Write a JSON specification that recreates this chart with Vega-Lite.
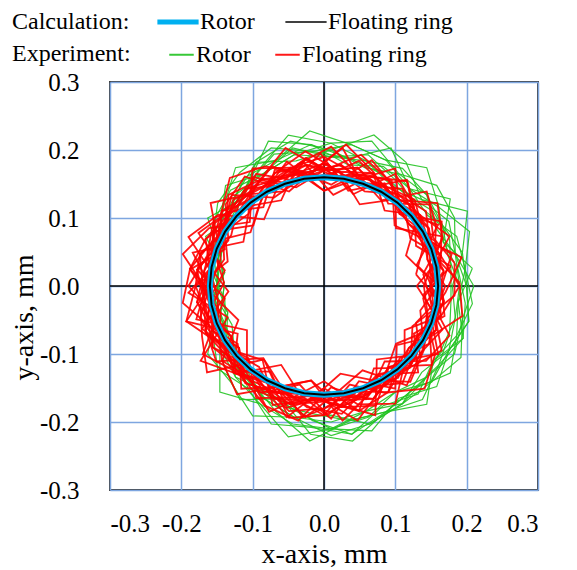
{
"$schema": "https://vega.github.io/schema/vega-lite/v6.json",
"width": 428, "height": 408,
"autosize": "none",
"padding": {"left": 110, "top": 82, "right": 39, "bottom": 80},
"background": "white",
"config": {
 "view": {"stroke": "#404040", "strokeWidth": 2},
 "axis": {"grid": true, "gridColor": "#7ea6e0", "gridWidth": 1.5, "gridOpacity": 1, "ticks": false, "tickSize": 0, "domain": false, "labelFont": "Liberation Serif, Times New Roman, serif", "labelFontSize": 25, "labelColor": "#000", "titleFont": "Liberation Serif, Times New Roman, serif", "titleFontSize": 28, "titleFontWeight": "normal", "titleColor": "#000"},
 "axisX": {"labelPadding": 21},
 "axisY": {"labelPadding": 31},
 "legend": {"orient": "none", "direction": "horizontal", "titleOrient": "left", "symbolType": "stroke", "labelFont": "Liberation Serif, Times New Roman, serif", "labelFontSize": 24, "labelColor": "#000", "titleFont": "Liberation Serif, Times New Roman, serif", "titleFontSize": 24, "titleFontWeight": "normal", "titleColor": "#000", "labelLimit": 300}
},
"datasets": {
 "zero": [{"v": 0}],
 "calc": [
  {"t":"Rotor","x":0.16,"y":0},{"t":"Rotor","x":0.1576,"y":0.0278},{"t":"Rotor","x":0.1504,"y":0.0547},{"t":"Rotor","x":0.1386,"y":0.08},{"t":"Rotor","x":0.1226,"y":0.1028},{"t":"Rotor","x":0.1028,"y":0.1226},{"t":"Rotor","x":0.08,"y":0.1386},{"t":"Rotor","x":0.0547,"y":0.1504},{"t":"Rotor","x":0.0278,"y":0.1576},{"t":"Rotor","x":0,"y":0.16},{"t":"Rotor","x":-0.0278,"y":0.1576},{"t":"Rotor","x":-0.0547,"y":0.1504},{"t":"Rotor","x":-0.08,"y":0.1386},{"t":"Rotor","x":-0.1028,"y":0.1226},{"t":"Rotor","x":-0.1226,"y":0.1028},{"t":"Rotor","x":-0.1386,"y":0.08},{"t":"Rotor","x":-0.1504,"y":0.0547},{"t":"Rotor","x":-0.1576,"y":0.0278},{"t":"Rotor","x":-0.16,"y":0},{"t":"Rotor","x":-0.1576,"y":-0.0278},{"t":"Rotor","x":-0.1504,"y":-0.0547},{"t":"Rotor","x":-0.1386,"y":-0.08},{"t":"Rotor","x":-0.1226,"y":-0.1028},{"t":"Rotor","x":-0.1028,"y":-0.1226},{"t":"Rotor","x":-0.08,"y":-0.1386},{"t":"Rotor","x":-0.0547,"y":-0.1504},{"t":"Rotor","x":-0.0278,"y":-0.1576},{"t":"Rotor","x":0,"y":-0.16},{"t":"Rotor","x":0.0278,"y":-0.1576},{"t":"Rotor","x":0.0547,"y":-0.1504},{"t":"Rotor","x":0.08,"y":-0.1386},{"t":"Rotor","x":0.1028,"y":-0.1226},{"t":"Rotor","x":0.1226,"y":-0.1028},{"t":"Rotor","x":0.1386,"y":-0.08},{"t":"Rotor","x":0.1504,"y":-0.0547},{"t":"Rotor","x":0.1576,"y":-0.0278},{"t":"Rotor","x":0.16,"y":0},
  {"t":"Floating ring","x":0.16,"y":0},{"t":"Floating ring","x":0.1576,"y":0.0278},{"t":"Floating ring","x":0.1504,"y":0.0547},{"t":"Floating ring","x":0.1386,"y":0.08},{"t":"Floating ring","x":0.1226,"y":0.1028},{"t":"Floating ring","x":0.1028,"y":0.1226},{"t":"Floating ring","x":0.08,"y":0.1386},{"t":"Floating ring","x":0.0547,"y":0.1504},{"t":"Floating ring","x":0.0278,"y":0.1576},{"t":"Floating ring","x":0,"y":0.16},{"t":"Floating ring","x":-0.0278,"y":0.1576},{"t":"Floating ring","x":-0.0547,"y":0.1504},{"t":"Floating ring","x":-0.08,"y":0.1386},{"t":"Floating ring","x":-0.1028,"y":0.1226},{"t":"Floating ring","x":-0.1226,"y":0.1028},{"t":"Floating ring","x":-0.1386,"y":0.08},{"t":"Floating ring","x":-0.1504,"y":0.0547},{"t":"Floating ring","x":-0.1576,"y":0.0278},{"t":"Floating ring","x":-0.16,"y":0},{"t":"Floating ring","x":-0.1576,"y":-0.0278},{"t":"Floating ring","x":-0.1504,"y":-0.0547},{"t":"Floating ring","x":-0.1386,"y":-0.08},{"t":"Floating ring","x":-0.1226,"y":-0.1028},{"t":"Floating ring","x":-0.1028,"y":-0.1226},{"t":"Floating ring","x":-0.08,"y":-0.1386},{"t":"Floating ring","x":-0.0547,"y":-0.1504},{"t":"Floating ring","x":-0.0278,"y":-0.1576},{"t":"Floating ring","x":0,"y":-0.16},{"t":"Floating ring","x":0.0278,"y":-0.1576},{"t":"Floating ring","x":0.0547,"y":-0.1504},{"t":"Floating ring","x":0.08,"y":-0.1386},{"t":"Floating ring","x":0.1028,"y":-0.1226},{"t":"Floating ring","x":0.1226,"y":-0.1028},{"t":"Floating ring","x":0.1386,"y":-0.08},{"t":"Floating ring","x":0.1504,"y":-0.0547},{"t":"Floating ring","x":0.1576,"y":-0.0278},{"t":"Floating ring","x":0.16,"y":0}
 ],
 "g": [
  {"k":1,"x":0.200,"y":0},{"k":1,"x":0.184,"y":0.047},{"k":1,"x":0.157,"y":0.085},{"k":1,"x":0.144,"y":0.134},{"k":1,"x":0.110,"y":0.173},{"k":1,"x":0.059,"y":0.184},{"k":1,"x":0.010,"y":0.210},{"k":1,"x":-0.050,"y":0.222},{"k":1,"x":-0.090,"y":0.173},{"k":1,"x":-0.117,"y":0.127},{"k":1,"x":-0.137,"y":0.085},{"k":1,"x":-0.145,"y":0.041},{"k":1,"x":-0.140,"y":0},{"k":1,"x":-0.145,"y":-0.041},{"k":1,"x":-0.146,"y":-0.090},{"k":1,"x":-0.124,"y":-0.134},{"k":1,"x":-0.090,"y":-0.173},{"k":1,"x":-0.044,"y":-0.203},{"k":1,"x":0.010,"y":-0.210},{"k":1,"x":0.062,"y":-0.193},{"k":1,"x":0.100,"y":-0.156},{"k":1,"x":0.151,"y":-0.141},{"k":1,"x":0.175,"y":-0.095},{"k":1,"x":0.203,"y":-0.052},{"k":1,"x":0.200,"y":0},
  {"k":2,"x":0.188,"y":0.024},{"k":2,"x":0.167,"y":0.065},{"k":2,"x":0.161,"y":0.116},{"k":2,"x":0.120,"y":0.143},{"k":2,"x":0.087,"y":0.185},{"k":2,"x":0.038,"y":0.208},{"k":2,"x":-0.016,"y":0.198},{"k":2,"x":-0.074,"y":0.203},{"k":2,"x":-0.118,"y":0.167},{"k":2,"x":-0.149,"y":0.122},{"k":2,"x":-0.156,"y":0.069},{"k":2,"x":-0.158,"y":0.022},{"k":2,"x":-0.149,"y":-0.021},{"k":2,"x":-0.129,"y":-0.057},{"k":2,"x":-0.125,"y":-0.104},{"k":2,"x":-0.106,"y":-0.151},{"k":2,"x":-0.059,"y":-0.166},{"k":2,"x":-0.016,"y":-0.198},{"k":2,"x":0.039,"y":-0.218},{"k":2,"x":0.083,"y":-0.176},{"k":2,"x":0.132,"y":-0.159},{"k":2,"x":0.153,"y":-0.110},{"k":2,"x":0.195,"y":-0.077},{"k":2,"x":0.198,"y":-0.025},{"k":2,"x":0.188,"y":0.024},
  {"k":3,"x":0.180,"y":0},{"k":3,"x":0.194,"y":0.049},{"k":3,"x":0.166,"y":0.090},{"k":3,"x":0.130,"y":0.120},{"k":3,"x":0.100,"y":0.156},{"k":3,"x":0.062,"y":0.193},{"k":3,"x":0.010,"y":0.190},{"k":3,"x":-0.044,"y":0.203},{"k":3,"x":-0.085,"y":0.165},{"k":3,"x":-0.131,"y":0.141},{"k":3,"x":-0.155,"y":0.095},{"k":3,"x":-0.154,"y":0.044},{"k":3,"x":-0.160,"y":0},{"k":3,"x":-0.145,"y":-0.041},{"k":3,"x":-0.129,"y":-0.080},{"k":3,"x":-0.110,"y":-0.120},{"k":3,"x":-0.085,"y":-0.165},{"k":3,"x":-0.042,"y":-0.193},{"k":3,"x":0.010,"y":-0.190},{"k":3,"x":0.064,"y":-0.203},{"k":3,"x":0.110,"y":-0.173},{"k":3,"x":0.144,"y":-0.134},{"k":3,"x":0.166,"y":-0.090},{"k":3,"x":0.184,"y":-0.047},{"k":3,"x":0.180,"y":0},
  {"k":4,"x":0.198,"y":0.025},{"k":4,"x":0.186,"y":0.073},{"k":4,"x":0.145,"y":0.104},{"k":4,"x":0.120,"y":0.143},{"k":4,"x":0.083,"y":0.176},{"k":4,"x":0.034,"y":0.178},{"k":4,"x":-0.018,"y":0.208},{"k":4,"x":-0.067,"y":0.185},{"k":4,"x":-0.112,"y":0.159},{"k":4,"x":-0.133,"y":0.110},{"k":4,"x":-0.147,"y":0.065},{"k":4,"x":-0.149,"y":0.021},{"k":4,"x":-0.149,"y":-0.021},{"k":4,"x":-0.147,"y":-0.065},{"k":4,"x":-0.133,"y":-0.110},{"k":4,"x":-0.100,"y":-0.143},{"k":4,"x":-0.067,"y":-0.185},{"k":4,"x":-0.020,"y":-0.228},{"k":4,"x":0.036,"y":-0.198},{"k":4,"x":0.087,"y":-0.185},{"k":4,"x":0.126,"y":-0.151},{"k":4,"x":0.177,"y":-0.128},{"k":4,"x":0.186,"y":-0.073},{"k":4,"x":0.188,"y":-0.024},{"k":4,"x":0.198,"y":0.025},
  {"k":5,"x":0.190,"y":0},{"k":5,"x":0.174,"y":0.044},{"k":5,"x":0.166,"y":0.090},{"k":5,"x":0.144,"y":0.134},{"k":5,"x":0.105,"y":0.165},{"k":5,"x":0.057,"y":0.174},{"k":5,"x":0.010,"y":0.200},{"k":5,"x":-0.039,"y":0.184},{"k":5,"x":-0.095,"y":0.182},{"k":5,"x":-0.124,"y":0.134},{"k":5,"x":-0.146,"y":0.090},{"k":5,"x":-0.145,"y":0.041},{"k":5,"x":-0.140,"y":0},{"k":5,"x":-0.145,"y":-0.041},{"k":5,"x":-0.137,"y":-0.085},{"k":5,"x":-0.124,"y":-0.134},{"k":5,"x":-0.080,"y":-0.156},{"k":5,"x":-0.039,"y":-0.184},{"k":5,"x":0.010,"y":-0.210},{"k":5,"x":0.059,"y":-0.184},{"k":5,"x":0.100,"y":-0.156},{"k":5,"x":0.144,"y":-0.134},{"k":5,"x":0.183,"y":-0.100},{"k":5,"x":0.194,"y":-0.049},{"k":5,"x":0.190,"y":0},
  {"k":6,"x":0.178,"y":0.022},{"k":6,"x":0.176,"y":0.069},{"k":6,"x":0.153,"y":0.110},{"k":6,"x":0.114,"y":0.135},{"k":6,"x":0.079,"y":0.166},{"k":6,"x":0.035,"y":0.188},{"k":6,"x":-0.016,"y":0.198},{"k":6,"x":-0.070,"y":0.194},{"k":6,"x":-0.106,"y":0.151},{"k":6,"x":-0.133,"y":0.110},{"k":6,"x":-0.147,"y":0.065},{"k":6,"x":-0.158,"y":0.022},{"k":6,"x":-0.139,"y":-0.020},{"k":6,"x":-0.138,"y":-0.061},{"k":6,"x":-0.125,"y":-0.104},{"k":6,"x":-0.100,"y":-0.143},{"k":6,"x":-0.063,"y":-0.176},{"k":6,"x":-0.015,"y":-0.188},{"k":6,"x":0.036,"y":-0.198},{"k":6,"x":0.087,"y":-0.185},{"k":6,"x":0.126,"y":-0.151},{"k":6,"x":0.161,"y":-0.116},{"k":6,"x":0.176,"y":-0.069},{"k":6,"x":0.178,"y":-0.022},{"k":6,"x":0.178,"y":0.022},
  {"k":7,"x":0.190,"y":0},{"k":7,"x":0.184,"y":0.047},{"k":7,"x":0.175,"y":0.095},{"k":7,"x":0.137,"y":0.127},{"k":7,"x":0.095,"y":0.147},{"k":7,"x":0.059,"y":0.184},{"k":7,"x":0.010,"y":0.190},{"k":7,"x":-0.042,"y":0.193},{"k":7,"x":-0.085,"y":0.165},{"k":7,"x":-0.124,"y":0.134},{"k":7,"x":-0.137,"y":0.085},{"k":7,"x":-0.145,"y":0.041},{"k":7,"x":-0.150,"y":0},{"k":7,"x":-0.135,"y":-0.039},{"k":7,"x":-0.137,"y":-0.085},{"k":7,"x":-0.117,"y":-0.127},{"k":7,"x":-0.085,"y":-0.165},{"k":7,"x":-0.042,"y":-0.193},{"k":7,"x":0.010,"y":-0.200},{"k":7,"x":0.059,"y":-0.184},{"k":7,"x":0.110,"y":-0.173},{"k":7,"x":0.137,"y":-0.127},{"k":7,"x":0.175,"y":-0.095},{"k":7,"x":0.184,"y":-0.047},{"k":7,"x":0.190,"y":0},
  {"k":8,"x":0.208,"y":0.026},{"k":8,"x":0.167,"y":0.065},{"k":8,"x":0.177,"y":0.128},{"k":8,"x":0.120,"y":0.143},{"k":8,"x":0.094,"y":0.203},{"k":8,"x":0.035,"y":0.188},{"k":8,"x":-0.018,"y":0.208},{"k":8,"x":-0.078,"y":0.213},{"k":8,"x":-0.106,"y":0.151},{"k":8,"x":-0.125,"y":0.104},{"k":8,"x":-0.166,"y":0.073},{"k":8,"x":-0.139,"y":0.020},{"k":8,"x":-0.158,"y":-0.022},{"k":8,"x":-0.138,"y":-0.061},{"k":8,"x":-0.141,"y":-0.116},{"k":8,"x":-0.118,"y":-0.167},{"k":8,"x":-0.059,"y":-0.166},{"k":8,"x":-0.019,"y":-0.218},{"k":8,"x":0.040,"y":-0.228},{"k":8,"x":0.087,"y":-0.185},{"k":8,"x":0.138,"y":-0.167},{"k":8,"x":0.161,"y":-0.116},{"k":8,"x":0.195,"y":-0.077},{"k":8,"x":0.188,"y":-0.024},{"k":8,"x":0.208,"y":0.026},
  {"k":9,"x":0.200,"y":0},{"k":9,"x":0.194,"y":0.049},{"k":9,"x":0.201,"y":0.110},{"k":9,"x":0.137,"y":0.127},{"k":9,"x":0.115,"y":0.182},{"k":9,"x":0.070,"y":0.222},{"k":9,"x":0.010,"y":0.200},{"k":9,"x":-0.047,"y":0.213},{"k":9,"x":-0.095,"y":0.182},{"k":9,"x":-0.117,"y":0.127},{"k":9,"x":-0.163,"y":0.100},{"k":9,"x":-0.145,"y":0.041},{"k":9,"x":-0.160,"y":0},{"k":9,"x":-0.135,"y":-0.039},{"k":9,"x":-0.146,"y":-0.090},{"k":9,"x":-0.146,"y":-0.156},{"k":9,"x":-0.090,"y":-0.173},{"k":9,"x":-0.050,"y":-0.222},{"k":9,"x":0.010,"y":-0.210},{"k":9,"x":0.067,"y":-0.213},{"k":9,"x":0.105,"y":-0.165},{"k":9,"x":0.158,"y":-0.148},{"k":9,"x":0.175,"y":-0.095},{"k":9,"x":0.203,"y":-0.052},{"k":9,"x":0.200,"y":0},
  {"k":10,"x":0.198,"y":0.025},{"k":10,"x":0.204,"y":0.080},{"k":10,"x":0.161,"y":0.116},{"k":10,"x":0.144,"y":0.174},{"k":10,"x":0.087,"y":0.185},{"k":10,"x":0.038,"y":0.208},{"k":10,"x":-0.020,"y":0.228},{"k":10,"x":-0.067,"y":0.185},{"k":10,"x":-0.124,"y":0.174},{"k":10,"x":-0.141,"y":0.116},{"k":10,"x":-0.147,"y":0.065},{"k":10,"x":-0.149,"y":0.021},{"k":10,"x":-0.149,"y":-0.021},{"k":10,"x":-0.156,"y":-0.069},{"k":10,"x":-0.149,"y":-0.122},{"k":10,"x":-0.106,"y":-0.151},{"k":10,"x":-0.074,"y":-0.203},{"k":10,"x":-0.018,"y":-0.208},{"k":10,"x":0.039,"y":-0.218},{"k":10,"x":0.087,"y":-0.185},{"k":10,"x":0.144,"y":-0.174},{"k":10,"x":0.153,"y":-0.110},{"k":10,"x":0.186,"y":-0.073},{"k":10,"x":0.208,"y":-0.026},{"k":10,"x":0.198,"y":0.025},
  {"k":11,"x":0.210,"y":0},{"k":11,"x":0.184,"y":0.047},{"k":11,"x":0.183,"y":0.100},{"k":11,"x":0.158,"y":0.148},{"k":11,"x":0.105,"y":0.165},{"k":11,"x":0.067,"y":0.213},{"k":11,"x":0.010,"y":0.210},{"k":11,"x":-0.042,"y":0.193},{"k":11,"x":-0.085,"y":0.165},{"k":11,"x":-0.138,"y":0.148},{"k":11,"x":-0.146,"y":0.090},{"k":11,"x":-0.154,"y":0.044},{"k":11,"x":-0.150,"y":0},{"k":11,"x":-0.154,"y":-0.044},{"k":11,"x":-0.163,"y":-0.100},{"k":11,"x":-0.131,"y":-0.141},{"k":11,"x":-0.100,"y":-0.191},{"k":11,"x":-0.042,"y":-0.193},{"k":11,"x":0.010,"y":-0.220},{"k":11,"x":0.064,"y":-0.203},{"k":11,"x":0.110,"y":-0.173},{"k":11,"x":0.151,"y":-0.141},{"k":11,"x":0.192,"y":-0.105},{"k":11,"x":0.194,"y":-0.049},{"k":11,"x":0.210,"y":0}
 ],
 "r": [
  {"k":1,"x":0.150,"y":0},{"k":1,"x":0.155,"y":0.041},{"k":1,"x":0.147,"y":0.085},{"k":1,"x":0.113,"y":0.113},{"k":1,"x":0.090,"y":0.156},{"k":1,"x":0.044,"y":0.164},{"k":1,"x":0,"y":0.190},{"k":1,"x":-0.047,"y":0.174},{"k":1,"x":-0.080,"y":0.139},{"k":1,"x":-0.120,"y":0.120},{"k":1,"x":-0.156,"y":0.090},{"k":1,"x":-0.164,"y":0.044},{"k":1,"x":-0.190,"y":0},{"k":1,"x":-0.155,"y":-0.041},{"k":1,"x":-0.130,"y":-0.075},{"k":1,"x":-0.120,"y":-0.120},{"k":1,"x":-0.090,"y":-0.156},{"k":1,"x":-0.041,"y":-0.155},{"k":1,"x":0,"y":-0.170},{"k":1,"x":0.049,"y":-0.184},{"k":1,"x":0.090,"y":-0.156},{"k":1,"x":0.113,"y":-0.113},{"k":1,"x":0.130,"y":-0.075},{"k":1,"x":0.164,"y":-0.044},{"k":1,"x":0.150,"y":0},
  {"k":2,"x":0.168,"y":0.022},{"k":2,"x":0.139,"y":0.057},{"k":2,"x":0.127,"y":0.097},{"k":2,"x":0.110,"y":0.143},{"k":2,"x":0.061,"y":0.148},{"k":2,"x":0.024,"y":0.178},{"k":2,"x":-0.022,"y":0.168},{"k":2,"x":-0.061,"y":0.148},{"k":2,"x":-0.110,"y":0.143},{"k":2,"x":-0.135,"y":0.104},{"k":2,"x":-0.148,"y":0.061},{"k":2,"x":-0.178,"y":0.024},{"k":2,"x":-0.168,"y":-0.022},{"k":2,"x":-0.166,"y":-0.069},{"k":2,"x":-0.127,"y":-0.097},{"k":2,"x":-0.104,"y":-0.135},{"k":2,"x":-0.061,"y":-0.148},{"k":2,"x":-0.024,"y":-0.178},{"k":2,"x":0.025,"y":-0.188},{"k":2,"x":0.061,"y":-0.148},{"k":2,"x":0.104,"y":-0.135},{"k":2,"x":0.119,"y":-0.091},{"k":2,"x":0.148,"y":-0.061},{"k":2,"x":0.139,"y":-0.018},{"k":2,"x":0.168,"y":0.022},
  {"k":3,"x":0.140,"y":0},{"k":3,"x":0.155,"y":0.041},{"k":3,"x":0.130,"y":0.075},{"k":3,"x":0.120,"y":0.120},{"k":3,"x":0.080,"y":0.139},{"k":3,"x":0.047,"y":0.174},{"k":3,"x":0,"y":0.170},{"k":3,"x":-0.054,"y":0.203},{"k":3,"x":-0.090,"y":0.156},{"k":3,"x":-0.113,"y":0.113},{"k":3,"x":-0.147,"y":0.085},{"k":3,"x":-0.145,"y":0.039},{"k":3,"x":-0.160,"y":0},{"k":3,"x":-0.174,"y":-0.047},{"k":3,"x":-0.147,"y":-0.085},{"k":3,"x":-0.113,"y":-0.113},{"k":3,"x":-0.085,"y":-0.147},{"k":3,"x":-0.047,"y":-0.174},{"k":3,"x":0,"y":-0.160},{"k":3,"x":0.044,"y":-0.164},{"k":3,"x":0.075,"y":-0.130},{"k":3,"x":0.120,"y":-0.120},{"k":3,"x":0.139,"y":-0.080},{"k":3,"x":0.145,"y":-0.039},{"k":3,"x":0.140,"y":0},
  {"k":4,"x":0.159,"y":0.021},{"k":4,"x":0.157,"y":0.065},{"k":4,"x":0.119,"y":0.091},{"k":4,"x":0.097,"y":0.127},{"k":4,"x":0.065,"y":0.157},{"k":4,"x":0.021,"y":0.159},{"k":4,"x":-0.024,"y":0.178},{"k":4,"x":-0.065,"y":0.157},{"k":4,"x":-0.104,"y":0.135},{"k":4,"x":-0.143,"y":0.110},{"k":4,"x":-0.148,"y":0.061},{"k":4,"x":-0.168,"y":0.022},{"k":4,"x":-0.178,"y":-0.024},{"k":4,"x":-0.148,"y":-0.061},{"k":4,"x":-0.135,"y":-0.104},{"k":4,"x":-0.110,"y":-0.143},{"k":4,"x":-0.065,"y":-0.157},{"k":4,"x":-0.021,"y":-0.159},{"k":4,"x":0.024,"y":-0.178},{"k":4,"x":0.065,"y":-0.157},{"k":4,"x":0.097,"y":-0.127},{"k":4,"x":0.135,"y":-0.104},{"k":4,"x":0.129,"y":-0.054},{"k":4,"x":0.159,"y":-0.021},{"k":4,"x":0.159,"y":0.021},
  {"k":5,"x":0.170,"y":0},{"k":5,"x":0.145,"y":0.039},{"k":5,"x":0.139,"y":0.080},{"k":5,"x":0.106,"y":0.106},{"k":5,"x":0.085,"y":0.147},{"k":5,"x":0.049,"y":0.184},{"k":5,"x":0,"y":0.160},{"k":5,"x":-0.044,"y":0.164},{"k":5,"x":-0.090,"y":0.156},{"k":5,"x":-0.120,"y":0.120},{"k":5,"x":-0.130,"y":0.075},{"k":5,"x":-0.155,"y":0.041},{"k":5,"x":-0.170,"y":0},{"k":5,"x":-0.164,"y":-0.044},{"k":5,"x":-0.156,"y":-0.090},{"k":5,"x":-0.113,"y":-0.113},{"k":5,"x":-0.085,"y":-0.147},{"k":5,"x":-0.049,"y":-0.184},{"k":5,"x":0,"y":-0.180},{"k":5,"x":0.041,"y":-0.155},{"k":5,"x":0.090,"y":-0.156},{"k":5,"x":0.106,"y":-0.106},{"k":5,"x":0.147,"y":-0.085},{"k":5,"x":0.155,"y":-0.041},{"k":5,"x":0.170,"y":0},
  {"k":6,"x":0.149,"y":0.020},{"k":6,"x":0.148,"y":0.061},{"k":6,"x":0.135,"y":0.104},{"k":6,"x":0.104,"y":0.135},{"k":6,"x":0.057,"y":0.139},{"k":6,"x":0.022,"y":0.168},{"k":6,"x":-0.024,"y":0.178},{"k":6,"x":-0.069,"y":0.166},{"k":6,"x":-0.097,"y":0.127},{"k":6,"x":-0.127,"y":0.097},{"k":6,"x":-0.166,"y":0.069},{"k":6,"x":-0.188,"y":0.025},{"k":6,"x":-0.159,"y":-0.021},{"k":6,"x":-0.157,"y":-0.065},{"k":6,"x":-0.127,"y":-0.097},{"k":6,"x":-0.091,"y":-0.119},{"k":6,"x":-0.069,"y":-0.166},{"k":6,"x":-0.022,"y":-0.168},{"k":6,"x":0.022,"y":-0.168},{"k":6,"x":0.069,"y":-0.166},{"k":6,"x":0.097,"y":-0.127},{"k":6,"x":0.127,"y":-0.097},{"k":6,"x":0.157,"y":-0.065},{"k":6,"x":0.149,"y":-0.020},{"k":6,"x":0.149,"y":0.020},
  {"k":7,"x":0.160,"y":0},{"k":7,"x":0.164,"y":0.044},{"k":7,"x":0.139,"y":0.080},{"k":7,"x":0.127,"y":0.127},{"k":7,"x":0.085,"y":0.147},{"k":7,"x":0.041,"y":0.155},{"k":7,"x":0,"y":0.180},{"k":7,"x":-0.044,"y":0.164},{"k":7,"x":-0.085,"y":0.147},{"k":7,"x":-0.127,"y":0.127},{"k":7,"x":-0.139,"y":0.080},{"k":7,"x":-0.174,"y":0.047},{"k":7,"x":-0.180,"y":0},{"k":7,"x":-0.164,"y":-0.044},{"k":7,"x":-0.139,"y":-0.080},{"k":7,"x":-0.127,"y":-0.127},{"k":7,"x":-0.080,"y":-0.139},{"k":7,"x":-0.044,"y":-0.164},{"k":7,"x":0,"y":-0.160},{"k":7,"x":0.044,"y":-0.164},{"k":7,"x":0.085,"y":-0.147},{"k":7,"x":0.113,"y":-0.113},{"k":7,"x":0.130,"y":-0.075},{"k":7,"x":0.164,"y":-0.044},{"k":7,"x":0.160,"y":0},
  {"k":8,"x":0.129,"y":0.017},{"k":8,"x":0.139,"y":0.057},{"k":8,"x":0.135,"y":0.104},{"k":8,"x":0.097,"y":0.127},{"k":8,"x":0.069,"y":0.166},{"k":8,"x":0.022,"y":0.168},{"k":8,"x":-0.021,"y":0.159},{"k":8,"x":-0.073,"y":0.176},{"k":8,"x":-0.104,"y":0.135},{"k":8,"x":-0.127,"y":0.097},{"k":8,"x":-0.157,"y":0.065},{"k":8,"x":-0.159,"y":0.021},{"k":8,"x":-0.149,"y":-0.020},{"k":8,"x":-0.148,"y":-0.061},{"k":8,"x":-0.143,"y":-0.110},{"k":8,"x":-0.104,"y":-0.135},{"k":8,"x":-0.077,"y":-0.185},{"k":8,"x":-0.021,"y":-0.159},{"k":8,"x":0.024,"y":-0.178},{"k":8,"x":0.065,"y":-0.157},{"k":8,"x":0.091,"y":-0.119},{"k":8,"x":0.135,"y":-0.104},{"k":8,"x":0.148,"y":-0.061},{"k":8,"x":0.159,"y":-0.021},{"k":8,"x":0.129,"y":0.017},
  {"k":9,"x":0.160,"y":0},{"k":9,"x":0.145,"y":0.039},{"k":9,"x":0.147,"y":0.085},{"k":9,"x":0.120,"y":0.120},{"k":9,"x":0.080,"y":0.139},{"k":9,"x":0.047,"y":0.174},{"k":9,"x":0,"y":0.170},{"k":9,"x":-0.041,"y":0.155},{"k":9,"x":-0.095,"y":0.165},{"k":9,"x":-0.120,"y":0.120},{"k":9,"x":-0.147,"y":0.085},{"k":9,"x":-0.155,"y":0.041},{"k":9,"x":-0.170,"y":0},{"k":9,"x":-0.145,"y":-0.039},{"k":9,"x":-0.147,"y":-0.085},{"k":9,"x":-0.120,"y":-0.120},{"k":9,"x":-0.090,"y":-0.156},{"k":9,"x":-0.047,"y":-0.174},{"k":9,"x":0,"y":-0.170},{"k":9,"x":0.041,"y":-0.155},{"k":9,"x":0.085,"y":-0.147},{"k":9,"x":0.120,"y":-0.120},{"k":9,"x":0.139,"y":-0.080},{"k":9,"x":0.135,"y":-0.036},{"k":9,"x":0.160,"y":0},
  {"k":10,"x":0.168,"y":0.022},{"k":10,"x":0.148,"y":0.061},{"k":10,"x":0.119,"y":0.091},{"k":10,"x":0.097,"y":0.127},{"k":10,"x":0.065,"y":0.157},{"k":10,"x":0.021,"y":0.159},{"k":10,"x":-0.025,"y":0.188},{"k":10,"x":-0.065,"y":0.157},{"k":10,"x":-0.097,"y":0.127},{"k":10,"x":-0.143,"y":0.110},{"k":10,"x":-0.157,"y":0.065},{"k":10,"x":-0.168,"y":0.022},{"k":10,"x":-0.159,"y":-0.021},{"k":10,"x":-0.166,"y":-0.069},{"k":10,"x":-0.135,"y":-0.104},{"k":10,"x":-0.097,"y":-0.127},{"k":10,"x":-0.065,"y":-0.157},{"k":10,"x":-0.022,"y":-0.168},{"k":10,"x":0.021,"y":-0.159},{"k":10,"x":0.069,"y":-0.166},{"k":10,"x":0.097,"y":-0.127},{"k":10,"x":0.119,"y":-0.091},{"k":10,"x":0.157,"y":-0.065},{"k":10,"x":0.159,"y":-0.021},{"k":10,"x":0.168,"y":0.022},
  {"k":11,"x":0.150,"y":0},{"k":11,"x":0.164,"y":0.044},{"k":11,"x":0.139,"y":0.080},{"k":11,"x":0.113,"y":0.113},{"k":11,"x":0.085,"y":0.147},{"k":11,"x":0.044,"y":0.164},{"k":11,"x":0,"y":0.160},{"k":11,"x":-0.047,"y":0.174},{"k":11,"x":-0.085,"y":0.147},{"k":11,"x":-0.106,"y":0.106},{"k":11,"x":-0.139,"y":0.080},{"k":11,"x":-0.174,"y":0.047},{"k":11,"x":-0.170,"y":0},{"k":11,"x":-0.155,"y":-0.041},{"k":11,"x":-0.156,"y":-0.090},{"k":11,"x":-0.120,"y":-0.120},{"k":11,"x":-0.080,"y":-0.139},{"k":11,"x":-0.044,"y":-0.164},{"k":11,"x":0,"y":-0.190},{"k":11,"x":0.044,"y":-0.164},{"k":11,"x":0.080,"y":-0.139},{"k":11,"x":0.120,"y":-0.120},{"k":11,"x":0.130,"y":-0.075},{"k":11,"x":0.155,"y":-0.041},{"k":11,"x":0.150,"y":0},
  {"k":12,"x":0.159,"y":0.021},{"k":12,"x":0.148,"y":0.061},{"k":12,"x":0.143,"y":0.110},{"k":12,"x":0.104,"y":0.135},{"k":12,"x":0.061,"y":0.148},{"k":12,"x":0.024,"y":0.178},{"k":12,"x":-0.022,"y":0.168},{"k":12,"x":-0.065,"y":0.157},{"k":12,"x":-0.110,"y":0.143},{"k":12,"x":-0.135,"y":0.104},{"k":12,"x":-0.166,"y":0.069},{"k":12,"x":-0.159,"y":0.021},{"k":12,"x":-0.178,"y":-0.024},{"k":12,"x":-0.157,"y":-0.065},{"k":12,"x":-0.119,"y":-0.091},{"k":12,"x":-0.110,"y":-0.143},{"k":12,"x":-0.065,"y":-0.157},{"k":12,"x":-0.021,"y":-0.159},{"k":12,"x":0.022,"y":-0.168},{"k":12,"x":0.061,"y":-0.148},{"k":12,"x":0.110,"y":-0.143},{"k":12,"x":0.127,"y":-0.097},{"k":12,"x":0.148,"y":-0.061},{"k":12,"x":0.168,"y":-0.022},{"k":12,"x":0.159,"y":0.021},
  {"k":13,"x":0.190,"y":0},{"k":13,"x":0.164,"y":0.044},{"k":13,"x":0.121,"y":0.070},{"k":13,"x":0.113,"y":0.113},{"k":13,"x":0.090,"y":0.156},{"k":13,"x":0.052,"y":0.193},{"k":13,"x":0,"y":0.170},{"k":13,"x":-0.039,"y":0.145},{"k":13,"x":-0.090,"y":0.156},{"k":13,"x":-0.134,"y":0.134},{"k":13,"x":-0.139,"y":0.080},{"k":13,"x":-0.135,"y":0.036},{"k":13,"x":-0.180,"y":0},{"k":13,"x":-0.193,"y":-0.052},{"k":13,"x":-0.147,"y":-0.085},{"k":13,"x":-0.106,"y":-0.106},{"k":13,"x":-0.095,"y":-0.165},{"k":13,"x":-0.044,"y":-0.164},{"k":13,"x":0,"y":-0.140},{"k":13,"x":0.047,"y":-0.174},{"k":13,"x":0.100,"y":-0.173},{"k":13,"x":0.113,"y":-0.113},{"k":13,"x":0.113,"y":-0.065},{"k":13,"x":0.164,"y":-0.044},{"k":13,"x":0.190,"y":0},
  {"k":14,"x":0.139,"y":0.018},{"k":14,"x":0.166,"y":0.069},{"k":14,"x":0.159,"y":0.122},{"k":14,"x":0.097,"y":0.127},{"k":14,"x":0.050,"y":0.120},{"k":14,"x":0.022,"y":0.168},{"k":14,"x":-0.026,"y":0.198},{"k":14,"x":-0.069,"y":0.166},{"k":14,"x":-0.091,"y":0.119},{"k":14,"x":-0.103,"y":0.079},{"k":14,"x":-0.157,"y":0.065},{"k":14,"x":-0.188,"y":0.025},{"k":14,"x":-0.149,"y":-0.020},{"k":14,"x":-0.120,"y":-0.050},{"k":14,"x":-0.143,"y":-0.110},{"k":14,"x":-0.122,"y":-0.159},{"k":14,"x":-0.061,"y":-0.148},{"k":14,"x":-0.018,"y":-0.139},{"k":14,"x":0.026,"y":-0.198},{"k":14,"x":0.065,"y":-0.157},{"k":14,"x":0.085,"y":-0.111},{"k":14,"x":0.143,"y":-0.110},{"k":14,"x":0.176,"y":-0.073},{"k":14,"x":0.149,"y":-0.020},{"k":14,"x":0.139,"y":0.018},
  {"k":15,"x":0.190,"y":0.005},{"k":15,"x":0.155,"y":0.044},{"k":15,"x":0.157,"y":0.090},{"k":15,"x":0.144,"y":0.139},{"k":15,"x":0.080,"y":0.126},{"k":15,"x":0.051,"y":0.160},{"k":15,"x":0.010,"y":0.205},{"k":15,"x":-0.037,"y":0.179},{"k":15,"x":-0.060,"y":0.126},{"k":15,"x":-0.103,"y":0.118},{"k":15,"x":-0.155,"y":0.100},{"k":15,"x":-0.154,"y":0.049},{"k":15,"x":-0.140,"y":0.005},{"k":15,"x":-0.164,"y":-0.042},{"k":15,"x":-0.129,"y":-0.075},{"k":15,"x":-0.124,"y":-0.129},{"k":15,"x":-0.060,"y":-0.116},{"k":15,"x":-0.034,"y":-0.159},{"k":15,"x":0.010,"y":-0.195},{"k":15,"x":0.049,"y":-0.140},{"k":15,"x":0.100,"y":-0.151},{"k":15,"x":0.102,"y":-0.087},{"k":15,"x":0.149,"y":-0.075},{"k":15,"x":0.194,"y":-0.044},{"k":15,"x":0.190,"y":0.005},
  {"k":16,"x":0.149,"y":0.021},{"k":16,"x":0.166,"y":0.073},{"k":16,"x":0.101,"y":0.085},{"k":16,"x":0.100,"y":0.143},{"k":16,"x":0.067,"y":0.185},{"k":16,"x":0.010,"y":0.149},{"k":16,"x":-0.032,"y":0.168},{"k":16,"x":-0.083,"y":0.176},{"k":16,"x":-0.132,"y":0.159},{"k":16,"x":-0.145,"y":0.104},{"k":16,"x":-0.139,"y":0.054},{"k":16,"x":-0.188,"y":0.024},{"k":16,"x":-0.198,"y":-0.025},{"k":16,"x":-0.158,"y":-0.061},{"k":16,"x":-0.121,"y":-0.085},{"k":16,"x":-0.114,"y":-0.135},{"k":16,"x":-0.083,"y":-0.176},{"k":16,"x":-0.036,"y":-0.198},{"k":16,"x":0.010,"y":-0.149},{"k":16,"x":0.059,"y":-0.166},{"k":16,"x":0.087,"y":-0.127},{"k":16,"x":0.101,"y":-0.085},{"k":16,"x":0.147,"y":-0.065},{"k":16,"x":0.168,"y":-0.024},{"k":16,"x":0.149,"y":0.021},
  {"k":17,"x":0.170,"y":-0.010},{"k":17,"x":0.193,"y":0.042},{"k":17,"x":0.139,"y":0.070},{"k":17,"x":0.099,"y":0.089},{"k":17,"x":0.095,"y":0.155},{"k":17,"x":0.047,"y":0.164},{"k":17,"x":0,"y":0.140},{"k":17,"x":-0.052,"y":0.183},{"k":17,"x":-0.085,"y":0.137},{"k":17,"x":-0.099,"y":0.089},{"k":17,"x":-0.156,"y":0.080},{"k":17,"x":-0.155,"y":0.031},{"k":17,"x":-0.190,"y":-0.010},{"k":17,"x":-0.135,"y":-0.046},{"k":17,"x":-0.173,"y":-0.110},{"k":17,"x":-0.120,"y":-0.130},{"k":17,"x":-0.075,"y":-0.140},{"k":17,"x":-0.049,"y":-0.194},{"k":17,"x":0,"y":-0.190},{"k":17,"x":0.036,"y":-0.145},{"k":17,"x":0.085,"y":-0.157},{"k":17,"x":0.141,"y":-0.151},{"k":17,"x":0.156,"y":-0.100},{"k":17,"x":0.145,"y":-0.049},{"k":17,"x":0.170,"y":-0.010},
  {"k":18,"x":0.183,"y":0.034},{"k":18,"x":0.153,"y":0.071},{"k":18,"x":0.148,"y":0.120},{"k":18,"x":0.090,"y":0.121},{"k":18,"x":0.070,"y":0.167},{"k":18,"x":0.031,"y":0.208},{"k":18,"x":-0.016,"y":0.169},{"k":18,"x":-0.049,"y":0.139},{"k":18,"x":-0.111,"y":0.161},{"k":18,"x":-0.138,"y":0.120},{"k":18,"x":-0.134,"y":0.067},{"k":18,"x":-0.163,"y":0.032},{"k":18,"x":-0.134,"y":-0.008},{"k":18,"x":-0.171,"y":-0.063},{"k":18,"x":-0.130,"y":-0.094},{"k":18,"x":-0.086,"y":-0.109},{"k":18,"x":-0.072,"y":-0.175},{"k":18,"x":-0.019,"y":-0.168},{"k":18,"x":0.023,"y":-0.129},{"k":18,"x":0.066,"y":-0.138},{"k":18,"x":0.121,"y":-0.141},{"k":18,"x":0.140,"y":-0.094},{"k":18,"x":0.144,"y":-0.047},{"k":18,"x":0.183,"y":-0.014},{"k":18,"x":0.183,"y":0.034},
  {"k":19,"x":0.130,"y":0},{"k":19,"x":0.164,"y":0.044},{"k":19,"x":0.165,"y":0.095},{"k":19,"x":0.106,"y":0.106},{"k":19,"x":0.100,"y":0.173},{"k":19,"x":0.041,"y":0.155},{"k":19,"x":0,"y":0.140},{"k":19,"x":-0.047,"y":0.174},{"k":19,"x":-0.100,"y":0.173},{"k":19,"x":-0.106,"y":0.106},{"k":19,"x":-0.113,"y":0.065},{"k":19,"x":-0.184,"y":0.049},{"k":19,"x":-0.160,"y":0},{"k":19,"x":-0.193,"y":-0.052},{"k":19,"x":-0.121,"y":-0.070},{"k":19,"x":-0.127,"y":-0.127},{"k":19,"x":-0.085,"y":-0.147},{"k":19,"x":-0.052,"y":-0.193},{"k":19,"x":0,"y":-0.150},{"k":19,"x":0.049,"y":-0.184},{"k":19,"x":0.070,"y":-0.121},{"k":19,"x":0.120,"y":-0.120},{"k":19,"x":0.165,"y":-0.095},{"k":19,"x":0.155,"y":-0.041},{"k":19,"x":0.130,"y":0},
  {"k":20,"x":0.144,"y":0.015},{"k":20,"x":0.115,"y":0.045},{"k":20,"x":0.130,"y":0.099},{"k":20,"x":0.117,"y":0.154},{"k":20,"x":0.064,"y":0.161},{"k":20,"x":0.013,"y":0.134},{"k":20,"x":-0.030,"y":0.183},{"k":20,"x":-0.066,"y":0.143},{"k":20,"x":-0.084,"y":0.098},{"k":20,"x":-0.148,"y":0.105},{"k":20,"x":-0.190,"y":0.072},{"k":20,"x":-0.154,"y":0.015},{"k":20,"x":-0.173,"y":-0.027},{"k":20,"x":-0.171,"y":-0.074},{"k":20,"x":-0.164,"y":-0.127},{"k":20,"x":-0.084,"y":-0.108},{"k":20,"x":-0.062,"y":-0.144},{"k":20,"x":-0.030,"y":-0.193},{"k":20,"x":0.017,"y":-0.173},{"k":20,"x":0.072,"y":-0.190},{"k":20,"x":0.074,"y":-0.108},{"k":20,"x":0.122,"y":-0.102},{"k":20,"x":0.124,"y":-0.059},{"k":20,"x":0.163,"y":-0.027},{"k":20,"x":0.144,"y":0.015},
  {"k":21,"x":0.165,"y":0},{"k":21,"x":0.179,"y":0.047},{"k":21,"x":0.135,"y":0.075},{"k":21,"x":0.125,"y":0.120},{"k":21,"x":0.100,"y":0.165},{"k":21,"x":0.041,"y":0.135},{"k":21,"x":0.005,"y":0.180},{"k":21,"x":-0.036,"y":0.155},{"k":21,"x":-0.070,"y":0.130},{"k":21,"x":-0.129,"y":0.134},{"k":21,"x":-0.142,"y":0.085},{"k":21,"x":-0.140,"y":0.039},{"k":21,"x":-0.165,"y":0},{"k":21,"x":-0.179,"y":-0.049},{"k":21,"x":-0.108,"y":-0.065},{"k":21,"x":-0.108,"y":-0.113},{"k":21,"x":-0.085,"y":-0.156},{"k":21,"x":-0.034,"y":-0.145},{"k":21,"x":0.005,"y":-0.190},{"k":21,"x":0.046,"y":-0.155},{"k":21,"x":0.080,"y":-0.130},{"k":21,"x":0.132,"y":-0.127},{"k":21,"x":0.126,"y":-0.070},{"k":21,"x":0.169,"y":-0.044},{"k":21,"x":0.165,"y":0},
  {"k":22,"x":0.178,"y":0.029},{"k":22,"x":0.129,"y":0.059},{"k":22,"x":0.127,"y":0.102},{"k":22,"x":0.116,"y":0.156},{"k":22,"x":0.057,"y":0.144},{"k":22,"x":0.026,"y":0.203},{"k":22,"x":-0.021,"y":0.164},{"k":22,"x":-0.069,"y":0.171},{"k":22,"x":-0.085,"y":0.116},{"k":22,"x":-0.135,"y":0.109},{"k":22,"x":-0.176,"y":0.078},{"k":22,"x":-0.139,"y":0.023},{"k":22,"x":-0.159,"y":-0.016},{"k":22,"x":-0.166,"y":-0.064},{"k":22,"x":-0.151,"y":-0.111},{"k":22,"x":-0.085,"y":-0.106},{"k":22,"x":-0.065,"y":-0.152},{"k":22,"x":-0.026,"y":-0.193},{"k":22,"x":0.021,"y":-0.154},{"k":22,"x":0.054,"y":-0.124},{"k":22,"x":0.116,"y":-0.146},{"k":22,"x":0.135,"y":-0.099},{"k":22,"x":0.166,"y":-0.064},{"k":22,"x":0.139,"y":-0.013},{"k":22,"x":0.178,"y":0.029},
  {"k":23,"x":0.165,"y":-0.005},{"k":23,"x":0.130,"y":0.031},{"k":23,"x":0.160,"y":0.090},{"k":23,"x":0.108,"y":0.108},{"k":23,"x":0.085,"y":0.151},{"k":23,"x":0.034,"y":0.140},{"k":23,"x":-0.005,"y":0.195},{"k":23,"x":-0.046,"y":0.150},{"k":23,"x":-0.100,"y":0.160},{"k":23,"x":-0.104,"y":0.094},{"k":23,"x":-0.161,"y":0.085},{"k":23,"x":-0.198,"y":0.047},{"k":23,"x":-0.165,"y":-0.005},{"k":23,"x":-0.150,"y":-0.044},{"k":23,"x":-0.170,"y":-0.100},{"k":23,"x":-0.125,"y":-0.125},{"k":23,"x":-0.075,"y":-0.126},{"k":23,"x":-0.052,"y":-0.179},{"k":23,"x":-0.005,"y":-0.165},{"k":23,"x":0.047,"y":-0.198},{"k":23,"x":0.080,"y":-0.152},{"k":23,"x":0.101,"y":-0.111},{"k":23,"x":0.160,"y":-0.100},{"k":23,"x":0.150,"y":-0.046},{"k":23,"x":0.165,"y":-0.005},
  {"k":24,"x":0.149,"y":0.020},{"k":24,"x":0.176,"y":0.073},{"k":24,"x":0.135,"y":0.104},{"k":24,"x":0.085,"y":0.111},{"k":24,"x":0.069,"y":0.166},{"k":24,"x":0.021,"y":0.159},{"k":24,"x":-0.025,"y":0.188},{"k":24,"x":-0.057,"y":0.139},{"k":24,"x":-0.104,"y":0.135},{"k":24,"x":-0.159,"y":0.122},{"k":24,"x":-0.148,"y":0.061},{"k":24,"x":-0.178,"y":0.024},{"k":24,"x":-0.139,"y":-0.018},{"k":24,"x":-0.157,"y":-0.065},{"k":24,"x":-0.119,"y":-0.091},{"k":24,"x":-0.116,"y":-0.151},{"k":24,"x":-0.061,"y":-0.148},{"k":24,"x":-0.018,"y":-0.139},{"k":24,"x":0.024,"y":-0.178},{"k":24,"x":0.073,"y":-0.176},{"k":24,"x":0.091,"y":-0.119},{"k":24,"x":0.151,"y":-0.116},{"k":24,"x":0.148,"y":-0.061},{"k":24,"x":0.168,"y":-0.022},{"k":24,"x":0.149,"y":0.020}
 ]
},
"layer": [
 {"data": {"name": "zero"}, "mark": {"type": "rule", "color": "#000", "strokeWidth": 1.5},
  "encoding": {"x": {"field": "v", "type": "quantitative", "scale": {"domain": [-0.3, 0.3], "nice": false, "zero": false},
   "axis": {"title": "x-axis, mm", "values": [-0.3, -0.2, -0.1, 0, 0.1, 0.2, 0.3], "labelExpr": "(datum.value < -0.001 ? '-' : '') + format(abs(datum.value), '.1f')", "titleY": 72, "titleBaseline": "alphabetic"}}}},
 {"data": {"name": "zero"}, "mark": {"type": "rule", "color": "#000", "strokeWidth": 1.5},
  "encoding": {"y": {"field": "v", "type": "quantitative", "scale": {"domain": [-0.3, 0.3], "nice": false, "zero": false},
   "axis": {"title": "y-axis, mm", "values": [-0.3, -0.2, -0.1, 0, 0.1, 0.2, 0.3], "labelExpr": "(datum.value < -0.001 ? '-' : '') + format(abs(datum.value), '.1f')", "titleX": -78, "titleY": 235, "titleAngle": -90, "titleBaseline": "alphabetic", "titleAlign": "center"}}}},
 {"layer": [
  {"data": {"name": "g"}, "mark": {"type": "line", "strokeWidth": 1.2, "opacity": 0.9},
   "encoding": {
    "x": {"field": "x", "type": "quantitative", "scale": {"domain": [-0.3, 0.3], "nice": false, "zero": false}, "axis": {"title": "x-axis, mm"}},
    "y": {"field": "y", "type": "quantitative", "scale": {"domain": [-0.3, 0.3], "nice": false, "zero": false}, "axis": {"title": "y-axis, mm"}},
    "detail": {"field": "k", "type": "nominal"},
    "order": {"value": null},
    "color": {"datum": "Rotor", "type": "nominal", "scale": {"domain": ["Rotor", "Floating ring"], "range": ["#22c322", "#ff0000"]},
     "legend": {"title": "Experiment:", "legendX": -98, "legendY": -41, "symbolSize": 600, "symbolStrokeWidth": 2, "titlePadding": 37, "columnPadding": 20, "labelOffset": 1}}
   }},
  {"data": {"name": "r"}, "mark": {"type": "line", "strokeWidth": 1.8, "opacity": 0.9},
   "encoding": {
    "x": {"field": "x", "type": "quantitative", "scale": {"domain": [-0.3, 0.3], "nice": false, "zero": false}, "axis": {"title": "x-axis, mm"}},
    "y": {"field": "y", "type": "quantitative", "scale": {"domain": [-0.3, 0.3], "nice": false, "zero": false}, "axis": {"title": "y-axis, mm"}},
    "detail": {"field": "k", "type": "nominal"},
    "order": {"value": null},
    "color": {"datum": "Floating ring", "type": "nominal"}
   }}
 ]},
 {"data": {"name": "calc"}, "mark": {"type": "line"},
  "encoding": {
   "x": {"field": "x", "type": "quantitative", "scale": {"domain": [-0.3, 0.3], "nice": false, "zero": false}, "axis": {"title": "x-axis, mm"}},
   "y": {"field": "y", "type": "quantitative", "scale": {"domain": [-0.3, 0.3], "nice": false, "zero": false}, "axis": {"title": "y-axis, mm"}},
   "order": {"value": null},
   "color": {"field": "t", "type": "nominal", "scale": {"domain": ["Rotor", "Floating ring"], "range": ["#00b0f0", "#000000"]},
    "legend": {"title": "Calculation:", "legendX": -98, "legendY": -72, "symbolSize": 1700, "titlePadding": 28, "columnPadding": 27, "symbolOffset": 8, "labelOffset": 10,
     "encode": {"symbols": {"update": {"strokeWidth": {"signal": "datum.value === 'Rotor' ? 5 : 1.5"}, "stroke": {"signal": "datum.value === 'Rotor' ? '#00b0f0' : '#404040'"}}}}}},
   "strokeWidth": {"field": "t", "type": "nominal", "scale": {"domain": ["Rotor", "Floating ring"], "range": [6, 2]}, "legend": null}
  }}
],
"resolve": {"scale": {"color": "independent"}}
}
